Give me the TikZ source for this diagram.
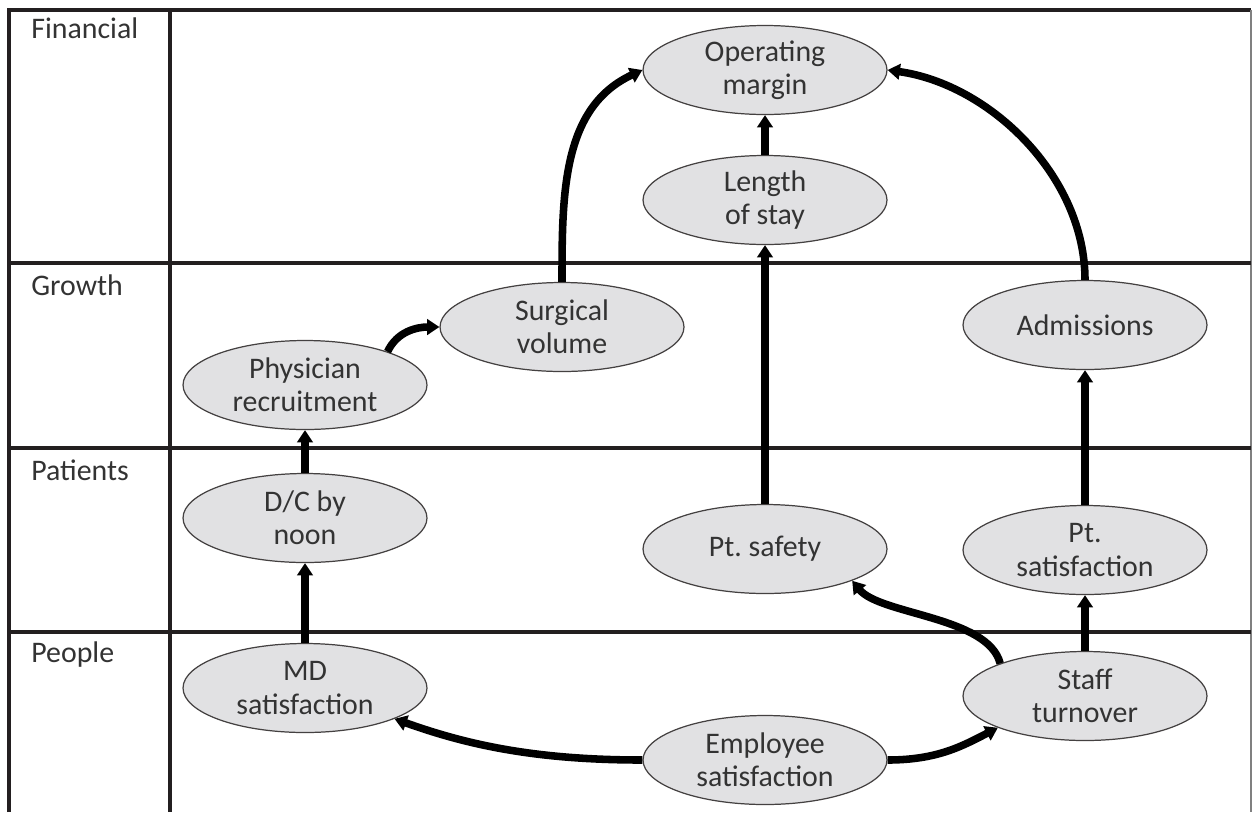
\documentclass[tikz,border=0pt]{standalone}
\usepackage{fontspec}
\setmainfont{Carlito}
\usetikzlibrary{shapes.geometric,arrows.meta}
\definecolor{inkgray}{HTML}{333333}
\definecolor{bubblefill}{HTML}{E1E1E3}
\definecolor{rulecolor}{HTML}{231F20}

\begin{document}
\begin{tikzpicture}[x=0.02cm,y=-0.02cm,
  bubble/.style={ellipse, draw=rulecolor!85, line width=0.7pt, fill=bubblefill,
    minimum width=4.88cm, minimum height=1.78cm, inner sep=0pt, align=center,
    text=inkgray, font=\fontsize{17}{19}\selectfont},
  rowlabel/.style={anchor=base west, inner sep=0pt, text=inkgray,
    font=\fontsize{17}{19}\selectfont},
  frameline/.style={draw=rulecolor, line width=2pt},
  flow/.style={draw=black, line width=4.3pt, -{Triangle[length=7pt,width=8.8pt]}},
]
\useasboundingbox (0,0) rectangle (1253,812);

% table frame
\draw[frameline] (9,812) -- (9,10) -- (1251,10);
\draw[draw=gray, line width=1.1pt] (1251,10) -- (1251,812);
\draw[frameline] (170,10) -- (170,812);
\foreach \yy in {263,448,632} \draw[frameline] (9,\yy) -- (1251,\yy);

% row labels
\node[rowlabel] (lfin) at (31,38)  {Financial};
\node[rowlabel] (lgro) at (31,295) {Growth};
\node[rowlabel] (lpat) at (31,480) {Patients};
\node[rowlabel] (lpeo) at (31,662) {People};

% measures
\node[bubble] (om)   at (765,70)   {Operating\\margin};
\node[bubble] (ls)   at (765,200)  {Length\\of stay};
\node[bubble] (sv)   at (562,327)  {Surgical\\volume};
\node[bubble] (adm)  at (1085,325) {Admissions};
\node[bubble] (pr)   at (305,385)  {Physician\\recruitment};
\node[bubble] (dc)   at (305,518)  {D/C by\\noon};
\node[bubble] (ps)   at (765,549)  {Pt.\ safety};
\node[bubble] (psat) at (1085,550) {Pt.\\satisfaction};
\node[bubble] (md)   at (305,688)  {MD\\satisfaction};
\node[bubble] (st)   at (1085,696) {Staff\\turnover};
\node[bubble] (es)   at (765,760)  {Employee\\satisfaction};

% cause-and-effect links
\draw[flow] (sv.north) to[out=90,in=205] (om.west);
\draw[flow] (ls.north) -- (om.south);
\draw[flow] (ps.north) -- (ls.south);
\draw[flow] (adm.north) to[out=90,in=-8,looseness=0.92] (om.east);
\draw[flow] (psat.north) -- (adm.south);
\draw[flow] (st.north) -- (psat.south);
\draw[flow] (st.159) .. controls +(-12,-47) and +(28,34) .. (ps.-20);
\draw[flow] (es.east) .. controls +(50,0) and +(-35,18) .. (st.200);
\draw[flow] (es.west) .. controls +(-110,0) and +(70,25) .. (md.-19);
\draw[flow] (md.north) -- (dc.south);
\draw[flow] (dc.north) -- (pr.south);
\draw[flow] (pr.22) to[out=65,in=180] (sv.west);
\end{tikzpicture}
\end{document}
